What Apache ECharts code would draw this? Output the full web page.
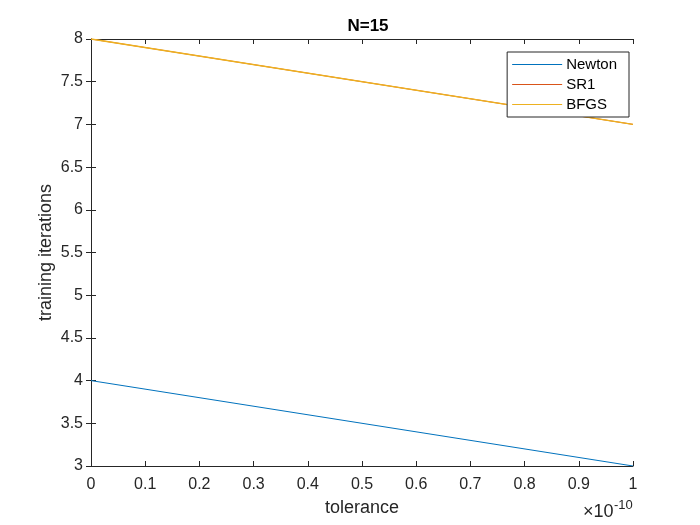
<!DOCTYPE html>
<html><head><meta charset="utf-8">
<script src="https://cdn.jsdelivr.net/npm/echarts@6/dist/echarts.min.js"></script>
<style>html,body{margin:0;padding:0;background:#fff}#c{width:700px;height:525px}</style>
</head><body><div id="c"></div>
<script>
// tolerance in units of 1e-10
const tolerance = [0, 1];
const newton = [4, 3];
const sr1 = [8, 7];
const bfgs = [8, 7];
const xScaleExponent = '-10';
const names = ['Newton', 'SR1', 'BFGS'];
const colors = ['#0072BD', '#D95319', '#EDB120'];

const font = 'Liberation Sans, Arial, Helvetica, sans-serif';
const axCol = '#262626';
const chart = echarts.init(document.getElementById('c'));
const mk = (arr) => tolerance.map((t, i) => [t, arr[i]]);
const baseAxis = {
  axisLine: {show: true, lineStyle: {color: axCol, width: 1}},
  axisTick: {show: true, inside: true, length: 5, lineStyle: {color: axCol}},
  splitLine: {show: false}
};
const lineIcon = 'path://M0,0 L100,0 L100,2.4 L0,2.4 Z';
chart.setOption({
  animation: false,
  backgroundColor: '#fff',
  title: {text: 'N=15', left: 363, top: 13, textAlign: 'center',
    textStyle: {fontFamily: font, fontSize: 17, fontWeight: 'bold', color: '#000'}},
  grid: {left: 91, right: 67, top: 39, bottom: 59},
  legend: {
    orient: 'vertical', right: 71, top: 52,
    backgroundColor: '#fff', borderColor: axCol, borderWidth: 1,
    padding: [5, 12, 5, 5], itemGap: 5, itemWidth: 50, itemHeight: 16,
    textStyle: {fontFamily: font, fontSize: 15, color: '#000', padding: [0,0,0,-1]},
    data: names.map((n, i) => ({
      name: n, icon: lineIcon,
      itemStyle: {color: colors[i], borderColor: colors[i], borderWidth: 0},
      lineStyle: {color: colors[i], width: 0}
    }))
  },
  xAxis: [
    Object.assign({}, baseAxis, {type: 'value', min: 0, max: 1, interval: 0.1, position: 'bottom',
      name: 'tolerance', nameLocation: 'middle', nameGap: 33, nameMoveOverlap: false,
      nameTextStyle: {fontFamily: font, fontSize: 18, color: axCol},
      axisLabel: {fontFamily: font, fontSize: 16, color: axCol, margin: 11,
        formatter: v => String(Math.round(v * 10) / 10)}}),
    Object.assign({}, baseAxis, {type: 'value', min: 0, max: 1, interval: 0.1, position: 'top',
      axisLabel: {show: false}})
  ],
  yAxis: [
    Object.assign({}, baseAxis, {type: 'value', min: 3, max: 8, interval: 0.5, position: 'left',
      name: 'training iterations', nameLocation: 'middle', nameGap: 36, nameRotate: 90,
      nameMoveOverlap: false,
      nameTextStyle: {fontFamily: font, fontSize: 18, color: axCol},
      axisLabel: {fontFamily: font, fontSize: 16, color: axCol, margin: 8,
        formatter: v => String(Math.round(v * 10) / 10)}}),
    Object.assign({}, baseAxis, {type: 'value', min: 3, max: 8, interval: 0.5, position: 'right',
      axisLabel: {show: false}})
  ],
  series: [
    {name: names[0], type: 'line', data: mk(newton), symbol: 'none', color: colors[0], lineStyle: {width: 1}},
    {name: names[1], type: 'line', data: mk(sr1), symbol: 'none', color: colors[1], lineStyle: {width: 1}},
    {name: names[2], type: 'line', data: mk(bfgs), symbol: 'none', color: colors[2], lineStyle: {width: 1.3}}
  ],
  graphic: [
    {type: 'text', left: 583, top: 503,
      style: {text: '×10', fill: axCol, font: '18px ' + font}},
    {type: 'text', left: 614, top: 499,
      style: {text: xScaleExponent, fill: axCol, font: '13px ' + font}}
  ]
});
</script></body></html>
